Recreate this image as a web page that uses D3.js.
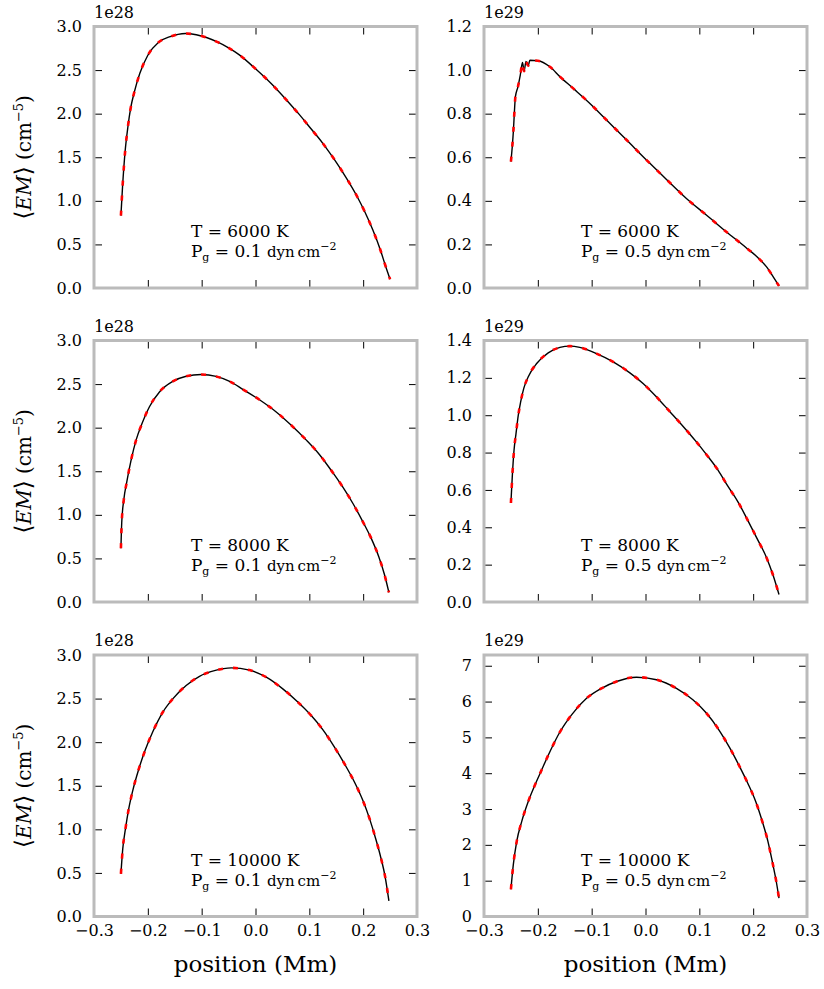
<!DOCTYPE html>
<html>
<head>
<meta charset="utf-8">
<script src="https://cdn.jsdelivr.net/npm/d3@7"></script>
<style>
body { margin: 0; background: #fff; }
text { font-family: "DejaVu Serif", serif; fill: #000; }
</style>
</head>
<body>
<svg id="chart" width="824" height="989"></svg>
<script>
// emission measure profiles, values in units of the offset (1e28 / 1e29)
var pos6000a = [-0.25, -0.247, -0.242, -0.237, -0.232, -0.225, -0.215, -0.2, -0.18, -0.16, -0.13, -0.11, -0.07, -0.05, -0.03, 0.0, 0.03, 0.06, 0.08, 0.10, 0.125, 0.147, 0.168, 0.187, 0.203, 0.218, 0.232, 0.242, 0.25];
var em6000a = [0.83, 1.16, 1.58, 1.85, 2.06, 2.25, 2.46, 2.67, 2.82, 2.88, 2.92, 2.905, 2.82, 2.755, 2.675, 2.515, 2.34, 2.14, 2.0, 1.85, 1.66, 1.47, 1.27, 1.07, 0.875, 0.665, 0.436, 0.244, 0.10];

var pos6000b = [-0.25, -0.2475, -0.2455, -0.244, -0.2417, -0.237, -0.2326, -0.2285, -0.2255, -0.222, -0.218, -0.2147, -0.2, -0.1776, -0.159, -0.1343, -0.1033, -0.0724, -0.035, 0.002, 0.039, 0.076, 0.113, 0.15, 0.187, 0.209, 0.2245, 0.237, 0.248];
var em6000b = [0.58, 0.648, 0.717, 0.786, 0.877, 0.923, 0.977, 1.035, 0.995, 1.04, 1.02, 1.045, 1.043, 1.015, 0.97, 0.916, 0.847, 0.771, 0.679, 0.587, 0.498, 0.411, 0.335, 0.258, 0.185, 0.139, 0.098, 0.052, 0.009];

var pos8000a = [-0.25, -0.2485, -0.2447, -0.239, -0.231, -0.2217, -0.2106, -0.197, -0.1784, -0.1537, -0.1288, -0.101, -0.073, -0.048, -0.0236, 0.0074, 0.0385, 0.066, 0.094, 0.119, 0.1407, 0.162, 0.181, 0.1995, 0.215, 0.229, 0.2398, 0.2478];
var em8000a = [0.616, 0.91, 1.17, 1.38, 1.63, 1.86, 2.05, 2.24, 2.41, 2.53, 2.59, 2.61, 2.588, 2.53, 2.44, 2.32, 2.18, 2.03, 1.86, 1.69, 1.51, 1.32, 1.13, 0.92, 0.73, 0.52, 0.31, 0.11];

var pos8000b = [-0.25, -0.2475, -0.2443, -0.2406, -0.2363, -0.232, -0.226, -0.218, -0.2022, -0.1807, -0.159, -0.1404, -0.122, -0.091, -0.06, -0.029, -0.0045, 0.0204, 0.045, 0.07, 0.0946, 0.113, 0.135, 0.153, 0.172, 0.19, 0.209, 0.2245, 0.237, 0.248];
var em8000b = [0.53, 0.67, 0.81, 0.90, 1.0, 1.07, 1.145, 1.205, 1.277, 1.334, 1.363, 1.37, 1.363, 1.33, 1.286, 1.227, 1.17, 1.098, 1.02, 0.94, 0.857, 0.79, 0.705, 0.62, 0.535, 0.437, 0.33, 0.24, 0.143, 0.04];

var pos10000a = [-0.25, -0.2466, -0.2416, -0.2355, -0.228, -0.2169, -0.2045, -0.1908, -0.1723, -0.1537, -0.1288, -0.104, -0.0762, -0.045, -0.011, 0.02, 0.0507, 0.0786, 0.1035, 0.125, 0.147, 0.1654, 0.184, 0.1995, 0.212, 0.223, 0.2318, 0.241, 0.2478];
var em10000a = [0.49, 0.776, 1.005, 1.235, 1.445, 1.69, 1.915, 2.12, 2.343, 2.497, 2.65, 2.756, 2.82, 2.852, 2.827, 2.745, 2.611, 2.46, 2.305, 2.144, 1.94, 1.75, 1.54, 1.33, 1.12, 0.898, 0.70, 0.45, 0.18];

var pos10000b = [-0.25, -0.2456, -0.2393, -0.23, -0.2178, -0.2054, -0.193, -0.1776, -0.159, -0.1373, -0.1095, -0.0816, -0.0538, -0.0167, 0.0204, 0.0575, 0.088, 0.113, 0.135, 0.156, 0.175, 0.19, 0.2047, 0.217, 0.2275, 0.2356, 0.243, 0.248];
var em10000b = [0.76, 1.44, 2.09, 2.65, 3.21, 3.67, 4.09, 4.60, 5.15, 5.63, 6.09, 6.37, 6.56, 6.68, 6.61, 6.37, 6.05, 5.68, 5.24, 4.72, 4.18, 3.72, 3.21, 2.65, 2.09, 1.53, 0.97, 0.51];

var xTicks = [-0.3, -0.2, -0.1, 0.0, 0.1, 0.2, 0.3];
var yTicksLow = [0, 0.5, 1.0, 1.5, 2.0, 2.5, 3.0];
var yTicks12 = [0, 0.2, 0.4, 0.6, 0.8, 1.0, 1.2];
var yTicks14 = [0, 0.2, 0.4, 0.6, 0.8, 1.0, 1.2, 1.4];
var yTicks7 = [0, 1, 2, 3, 4, 5, 6, 7];
var temps = ["6000", "8000", "10000"];
var pressures = ["0.1", "0.5"];
var offsets = ["1e28", "1e29"];

var panels = [
    { row: 0, col: 0, x: pos6000a, y: em6000a, ymax: 3.0, ticks: yTicksLow, fmt: ".1f" },
    { row: 0, col: 1, x: pos6000b, y: em6000b, ymax: 1.2, ticks: yTicks12, fmt: ".1f" },
    { row: 1, col: 0, x: pos8000a, y: em8000a, ymax: 3.0, ticks: yTicksLow, fmt: ".1f" },
    { row: 1, col: 1, x: pos8000b, y: em8000b, ymax: 1.4, ticks: yTicks14, fmt: ".1f" },
    { row: 2, col: 0, x: pos10000a, y: em10000a, ymax: 3.0, ticks: yTicksLow, fmt: ".1f" },
    { row: 2, col: 1, x: pos10000b, y: em10000b, ymax: 7.3, ticks: yTicks7, fmt: "d" }
];

var colLeft = [94, 484], PW = 323;
var rowTop = [26.5, 340.5, 655], PH = 261.5;
var FRAME = "#bbbbbb";
var TICKFONT = 16;

var svg = d3.select("#chart");

panels.forEach(function(p) {
    var g = svg.append("g")
        .attr("transform", "translate(" + colLeft[p.col] + "," + rowTop[p.row] + ")");
    var x = d3.scaleLinear().domain([-0.3, 0.3]).range([0, PW]);
    var y = d3.scaleLinear().domain([0, p.ymax]).range([PH, 0]);
    var pts = p.x.map(function(v, i) { return [v, p.y[i]]; });
    var bottomRow = p.row == 2;

    var axes = [
        d3.axisLeft(y).tickValues(p.ticks).tickSize(-8).tickPadding(12).tickFormat(d3.format(p.fmt)),
        d3.axisRight(y).tickValues(p.ticks).tickSize(-8).tickFormat(""),
        d3.axisTop(x).tickValues(xTicks).tickSize(-8).tickFormat(""),
        d3.axisBottom(x).tickValues(xTicks).tickSize(-8).tickPadding(8)
            .tickFormat(bottomRow ? d3.format(".1f") : "")
    ];
    var pos = ["", "translate(" + PW + ",0)", "", "translate(0," + PH + ")"];
    axes.forEach(function(a, i) {
        var ag = g.append("g").attr("transform", pos[i]).call(a);
        ag.select(".domain").remove();
        ag.selectAll("line").attr("stroke", "#000").attr("stroke-width", 1);
        ag.selectAll("text").attr("font-family", "DejaVu Serif").attr("font-size", TICKFONT).attr("fill", "#000");
    });

    var line = d3.line()
        .x(function(d) { return x(d[0]); })
        .y(function(d) { return y(d[1]); })
        .curve(d3.curveMonotoneX);

    g.append("path")
        .attr("d", line(pts))
        .attr("fill", "none")
        .attr("stroke", "#000")
        .attr("stroke-width", 1.4);
    g.append("path")
        .attr("d", line(pts))
        .attr("fill", "none")
        .attr("stroke", "#ff0000")
        .attr("stroke-width", 2.6)
        .attr("stroke-dasharray", "5,10");

    // annotation
    var ann = g.append("text")
        .attr("x", PW * 0.3)
        .attr("y", PH - 51)
        .attr("font-size", 17);
    ann.text("T = " + temps[p.row] + " K");
    var ann2 = g.append("text")
        .attr("x", PW * 0.3)
        .attr("y", PH - 31)
        .attr("font-size", 17);
    ann2.append("tspan").text("P");
    ann2.append("tspan").attr("font-size", 11).attr("dy", 4).text("g");
    ann2.append("tspan").attr("dy", -4).text(" = " + pressures[p.col] + " ");
    ann2.append("tspan").attr("font-size", 15).text("dyn\u2009cm");
    ann2.append("tspan").attr("font-size", 11).attr("dy", -7).text("\u22122");

    // offset text
    g.append("text")
        .attr("x", 0)
        .attr("y", -9)
        .attr("font-size", TICKFONT)
        .text(offsets[p.col]);

    g.append("rect")
        .attr("width", PW)
        .attr("height", PH)
        .attr("fill", "none")
        .attr("stroke", FRAME)
        .attr("stroke-width", 3);

    if (p.col == 0) {
        var yl = svg.append("text")
            .attr("transform", "translate(31," + (rowTop[p.row] + PH / 2) + ") rotate(-90)")
            .attr("text-anchor", "middle")
            .attr("font-size", 20);
        yl.append("tspan").attr("font-size", 23).text("\u27E8");
        yl.append("tspan").attr("font-style", "italic").text("EM");
        yl.append("tspan").attr("font-size", 23).text("\u27E9");
        yl.append("tspan").text(" (cm");
        yl.append("tspan").attr("font-size", 13).attr("dy", -8).text("\u22125");
        yl.append("tspan").attr("dy", 8).text(")");
    }
    if (bottomRow) {
        svg.append("text")
            .attr("x", colLeft[p.col] + PW / 2)
            .attr("y", 972)
            .attr("text-anchor", "middle")
            .attr("font-size", 23)
            .text("position (Mm)");
    }
});
</script>
</body>
</html>
